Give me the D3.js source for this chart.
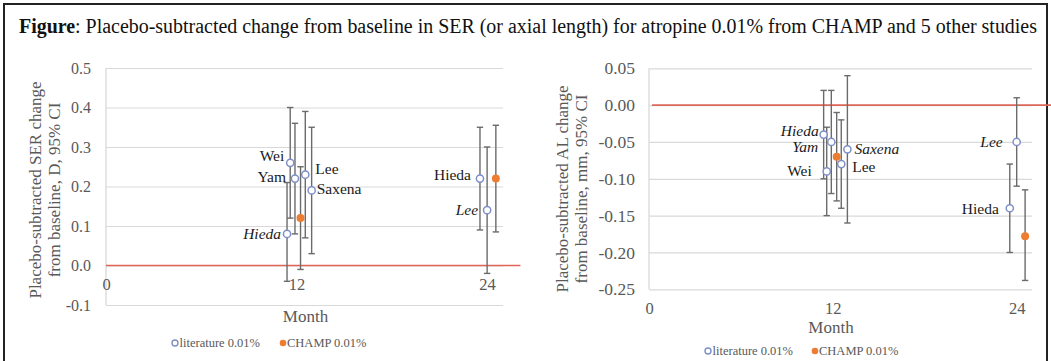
<!DOCTYPE html>
<html><head><meta charset="utf-8">
<script src="https://cdn.jsdelivr.net/npm/d3@7"></script>
<style>
html,body{margin:0;padding:0;background:#fff;}
svg, svg text{font-family:"Liberation Serif","Times New Roman",serif;}
</style></head>
<body>
<svg id="chart" width="1051" height="361"></svg>
<script>
// ---------- DATA ----------
const titleBold = "Figure";
const titleRest = ": Placebo-subtracted change from baseline in SER (or axial length) for atropine 0.01% from CHAMP and 5 other studies";
const legendLabels = ["literature 0.01%", "CHAMP 0.01%"];
const xTicks = [0, 12, 24];

// Studies (literature), same order in both panels
const litStudies = ["Hieda", "Wei", "Yam", "Lee", "Saxena", "Hieda", "Lee"];
const litMonth   = [11.4, 11.6, 11.9, 12.55, 12.95, 23.55, 24.0];
const champMonth = [12.25, 24.55];

// SER panel (D)
const serTicks     = [-0.1, 0.0, 0.1, 0.2, 0.3, 0.4, 0.5];
const serLitValue  = [0.08, 0.26, 0.22, 0.23, 0.19, 0.22, 0.14];
const serLitLower  = [-0.04, 0.12, 0.08, 0.07, 0.03, 0.09, -0.02];
const serLitUpper  = [0.21, 0.40, 0.36, 0.39, 0.35, 0.35, 0.30];
const serChampValue = [0.12, 0.22];
const serChampLower = [-0.01, 0.085];
const serChampUpper = [0.25, 0.355];

// AL panel (mm)
const alTicks      = [-0.25, -0.20, -0.15, -0.10, -0.05, 0.00, 0.05];
const alLitValue   = [-0.04, -0.09, -0.05, -0.08, -0.06, -0.14, -0.05];
const alLitLower   = [-0.10, -0.15, -0.12, -0.14, -0.16, -0.20, -0.11];
const alLitUpper   = [0.02, -0.03, 0.02, -0.02, 0.04, -0.08, 0.01];
const alChampValue = [-0.07, -0.178];
const alChampLower = [-0.13, -0.238];
const alChampUpper = [-0.01, -0.115];

// ---------- LAYOUT / STYLE (not data) ----------
const serLabelLayout = [
  {a:"end", dx:-6, dy:0, it:true},
  {a:"end", dx:-6, dy:-7, it:false},
  {a:"end", dx:-9, dy:-2, it:false},
  {a:"start", dx:10, dy:-6, it:false},
  {a:"start", dx:5, dy:-2, it:false},
  {a:"end", dx:-9, dy:-4, it:false},
  {a:"end", dx:-9, dy:-1, it:true}
];
const alLabelLayout = [
  {a:"end", dx:-5, dy:-4.5, it:true},
  {a:"end", dx:-15, dy:-1, it:false},
  {a:"end", dx:-13, dy:5, it:true},
  {a:"start", dx:11, dy:3, it:false},
  {a:"start", dx:7, dy:-1, it:true},
  {a:"end", dx:-11, dy:0, it:false},
  {a:"end", dx:-14, dy:0, it:true}
];

const FONT = "'Liberation Serif','Times New Roman',serif";
const GREY = "#595959", GRID = "#d9d9d9", RED = "#dd6658", BAR = "#6b6b6b",
      LIT = "#7f8fc6", CHAMP = "#ed7d31";
const loc = d3.formatLocale({decimal:".", thousands:",", grouping:[3], currency:["$",""], minus:"-"});

const svg = d3.select("#chart");

// frame
svg.append("rect").attr("x",4).attr("y",4).attr("width",1043).attr("height",400)
  .attr("fill","none").attr("stroke","#222").attr("stroke-width",2);

// title
const title = svg.append("text").attr("x",19).attr("y",33).style("font-family",FONT).attr("font-size",20).attr("fill","#111")
  .attr("textLength",1018).attr("lengthAdjust","spacingAndGlyphs");
title.append("tspan").attr("font-weight","bold").text(titleBold);
title.append("tspan").text(titleRest);

function panel(cfg){
  const g = svg.append("g").style("font-family",FONT);
  const x = d3.scaleLinear().domain([0,25]).range(cfg.xr);
  const y = d3.scaleLinear().domain(cfg.yd).range(cfg.yr);
  const w = cfg.xr[1]-cfg.xr[0];
  // gridlines
  g.append("g").attr("transform",`translate(${cfg.xr[0]},0)`)
    .call(d3.axisLeft(y).tickValues(cfg.ticks).tickSize(-w).tickFormat(""))
    .call(s=>{s.select(".domain").remove(); s.selectAll("line").attr("stroke",GRID).attr("stroke-width",1.2);});
  // left axis line
  g.append("line").attr("x1",cfg.xr[0]).attr("x2",cfg.xr[0]).attr("y1",cfg.yr[1]).attr("y2",cfg.yr[0])
    .attr("stroke",GRID).attr("stroke-width",1.3);
  // y tick labels
  g.append("g").attr("transform",`translate(${cfg.xr[0]},0)`)
    .call(d3.axisLeft(y).tickValues(cfg.ticks).tickSize(0).tickPadding(cfg.tpad).tickFormat(loc.format(cfg.fmt)))
    .call(s=>{s.attr("font-family",null); s.select(".domain").remove(); s.selectAll("text").attr("fill",GREY)
      .style("font-family",FONT).style("font-size",cfg.tfs+"px");});
  // x tick labels
  g.append("g").attr("transform",`translate(0,${y(cfg.xAxisAt)})`)
    .call(d3.axisBottom(x).tickValues(xTicks).tickSize(0).tickPadding(cfg.xpad).tickFormat(d3.format("d")))
    .call(s=>{s.attr("font-family",null); s.select(".domain").remove(); s.selectAll("text").attr("fill",GREY)
      .style("font-family",FONT).style("font-size",cfg.xfs+"px");});
  // red zero line
  g.append("line").attr("x1",x(cfg.redFrom)).attr("x2",x(cfg.redTo)).attr("y1",y(0)).attr("y2",y(0))
    .attr("stroke",RED).attr("stroke-width",1.6);
  // error bars
  function bars(months, lo, hi){
    months.forEach((m,i)=>{
      const cx = x(m);
      g.append("line").attr("x1",cx).attr("x2",cx).attr("y1",y(lo[i])).attr("y2",y(hi[i]))
        .attr("stroke",BAR).attr("stroke-width",1.4);
      [lo[i],hi[i]].forEach(v=>g.append("line").attr("x1",cx-3.2).attr("x2",cx+3.2)
        .attr("y1",y(v)).attr("y2",y(v)).attr("stroke",BAR).attr("stroke-width",1.4));
    });
  }
  bars(litMonth, cfg.litLo, cfg.litHi);
  bars(champMonth, cfg.chLo, cfg.chHi);
  // markers
  g.selectAll(".lit").data(litMonth).join("circle").attr("cx",d=>x(d)).attr("cy",(d,i)=>y(cfg.litV[i]))
    .attr("r",3.6).attr("fill","#fff").attr("stroke",LIT).attr("stroke-width",1.5);
  g.selectAll(".ch").data(champMonth).join("circle").attr("cx",d=>x(d)).attr("cy",(d,i)=>y(cfg.chV[i]))
    .attr("r",4).attr("fill",CHAMP);
  // data labels
  litStudies.forEach((name,i)=>{
    const L = cfg.layout[i];
    g.append("text").attr("x",x(litMonth[i])+L.dx).attr("y",y(cfg.litV[i])+L.dy).attr("dy","0.35em")
      .attr("text-anchor",L.a).attr("font-size",15.5).attr("fill","#1a1a1a")
      .attr("font-style",L.it?"italic":"normal").text(name);
  });
  // y title
  const yt = g.append("text").attr("transform",`translate(${cfg.ytx},${cfg.yty}) rotate(-90)`)
    .attr("text-anchor","middle").attr("font-size",17).attr("fill",GREY);
  yt.append("tspan").attr("x",0).attr("dy","0.35em").text(cfg.yTitle[0]);
  yt.append("tspan").attr("x",0).attr("dy","1.1em").text(cfg.yTitle[1]);
  // x title
  g.append("text").attr("x",cfg.mx).attr("y",cfg.my).attr("text-anchor","middle")
    .attr("font-size",17).attr("fill",GREY).text("Month");
  // legend
  const lg = g.append("g").attr("transform",`translate(${cfg.lx},${cfg.ly})`);
  lg.append("circle").attr("cx",0).attr("cy",0).attr("r",3).attr("fill","#fff").attr("stroke",LIT).attr("stroke-width",1.4);
  lg.append("text").attr("x",4.5).attr("y",0).attr("dy","0.35em").attr("font-size",12.5).attr("fill",GREY).text(legendLabels[0]);
  lg.append("circle").attr("cx",cfg.lgap).attr("cy",0).attr("r",3.3).attr("fill",CHAMP);
  lg.append("text").attr("x",cfg.lgap+4).attr("y",0).attr("dy","0.35em").attr("font-size",12.5).attr("fill",GREY).text(legendLabels[1]);
}

panel({
  xr:[106,503], yd:[-0.1,0.5], yr:[305,68], ticks:serTicks, fmt:".1f", tpad:15, tfs:16,
  xAxisAt:0, xpad:13, xfs:16.5, redFrom:0, redTo:26.1,
  litV:serLitValue, litLo:serLitLower, litHi:serLitUpper,
  chV:serChampValue, chLo:serChampLower, chHi:serChampUpper,
  layout:serLabelLayout, yTitle:["Placebo-subtracted SER change","from baseline, D, 95% CI"],
  ytx:35, yty:190, mx:305.5, my:322, lx:175, ly:343, lgap:108
});
panel({
  xr:[649,1032], yd:[-0.25,0.05], yr:[289.3,68.3], ticks:alTicks, fmt:".2f", tpad:14, tfs:17.5,
  xAxisAt:-0.25, xpad:13, xfs:16.5, redFrom:0.2, redTo:27,
  litV:alLitValue, litLo:alLitLower, litHi:alLitUpper,
  chV:alChampValue, chLo:alChampLower, chHi:alChampUpper,
  layout:alLabelLayout, yTitle:["Placebo-subtracted AL change","from baseline, mm, 95% CI"],
  ytx:562, yty:189, mx:831, my:333, lx:708, ly:351, lgap:107
});
</script>
</body></html>
